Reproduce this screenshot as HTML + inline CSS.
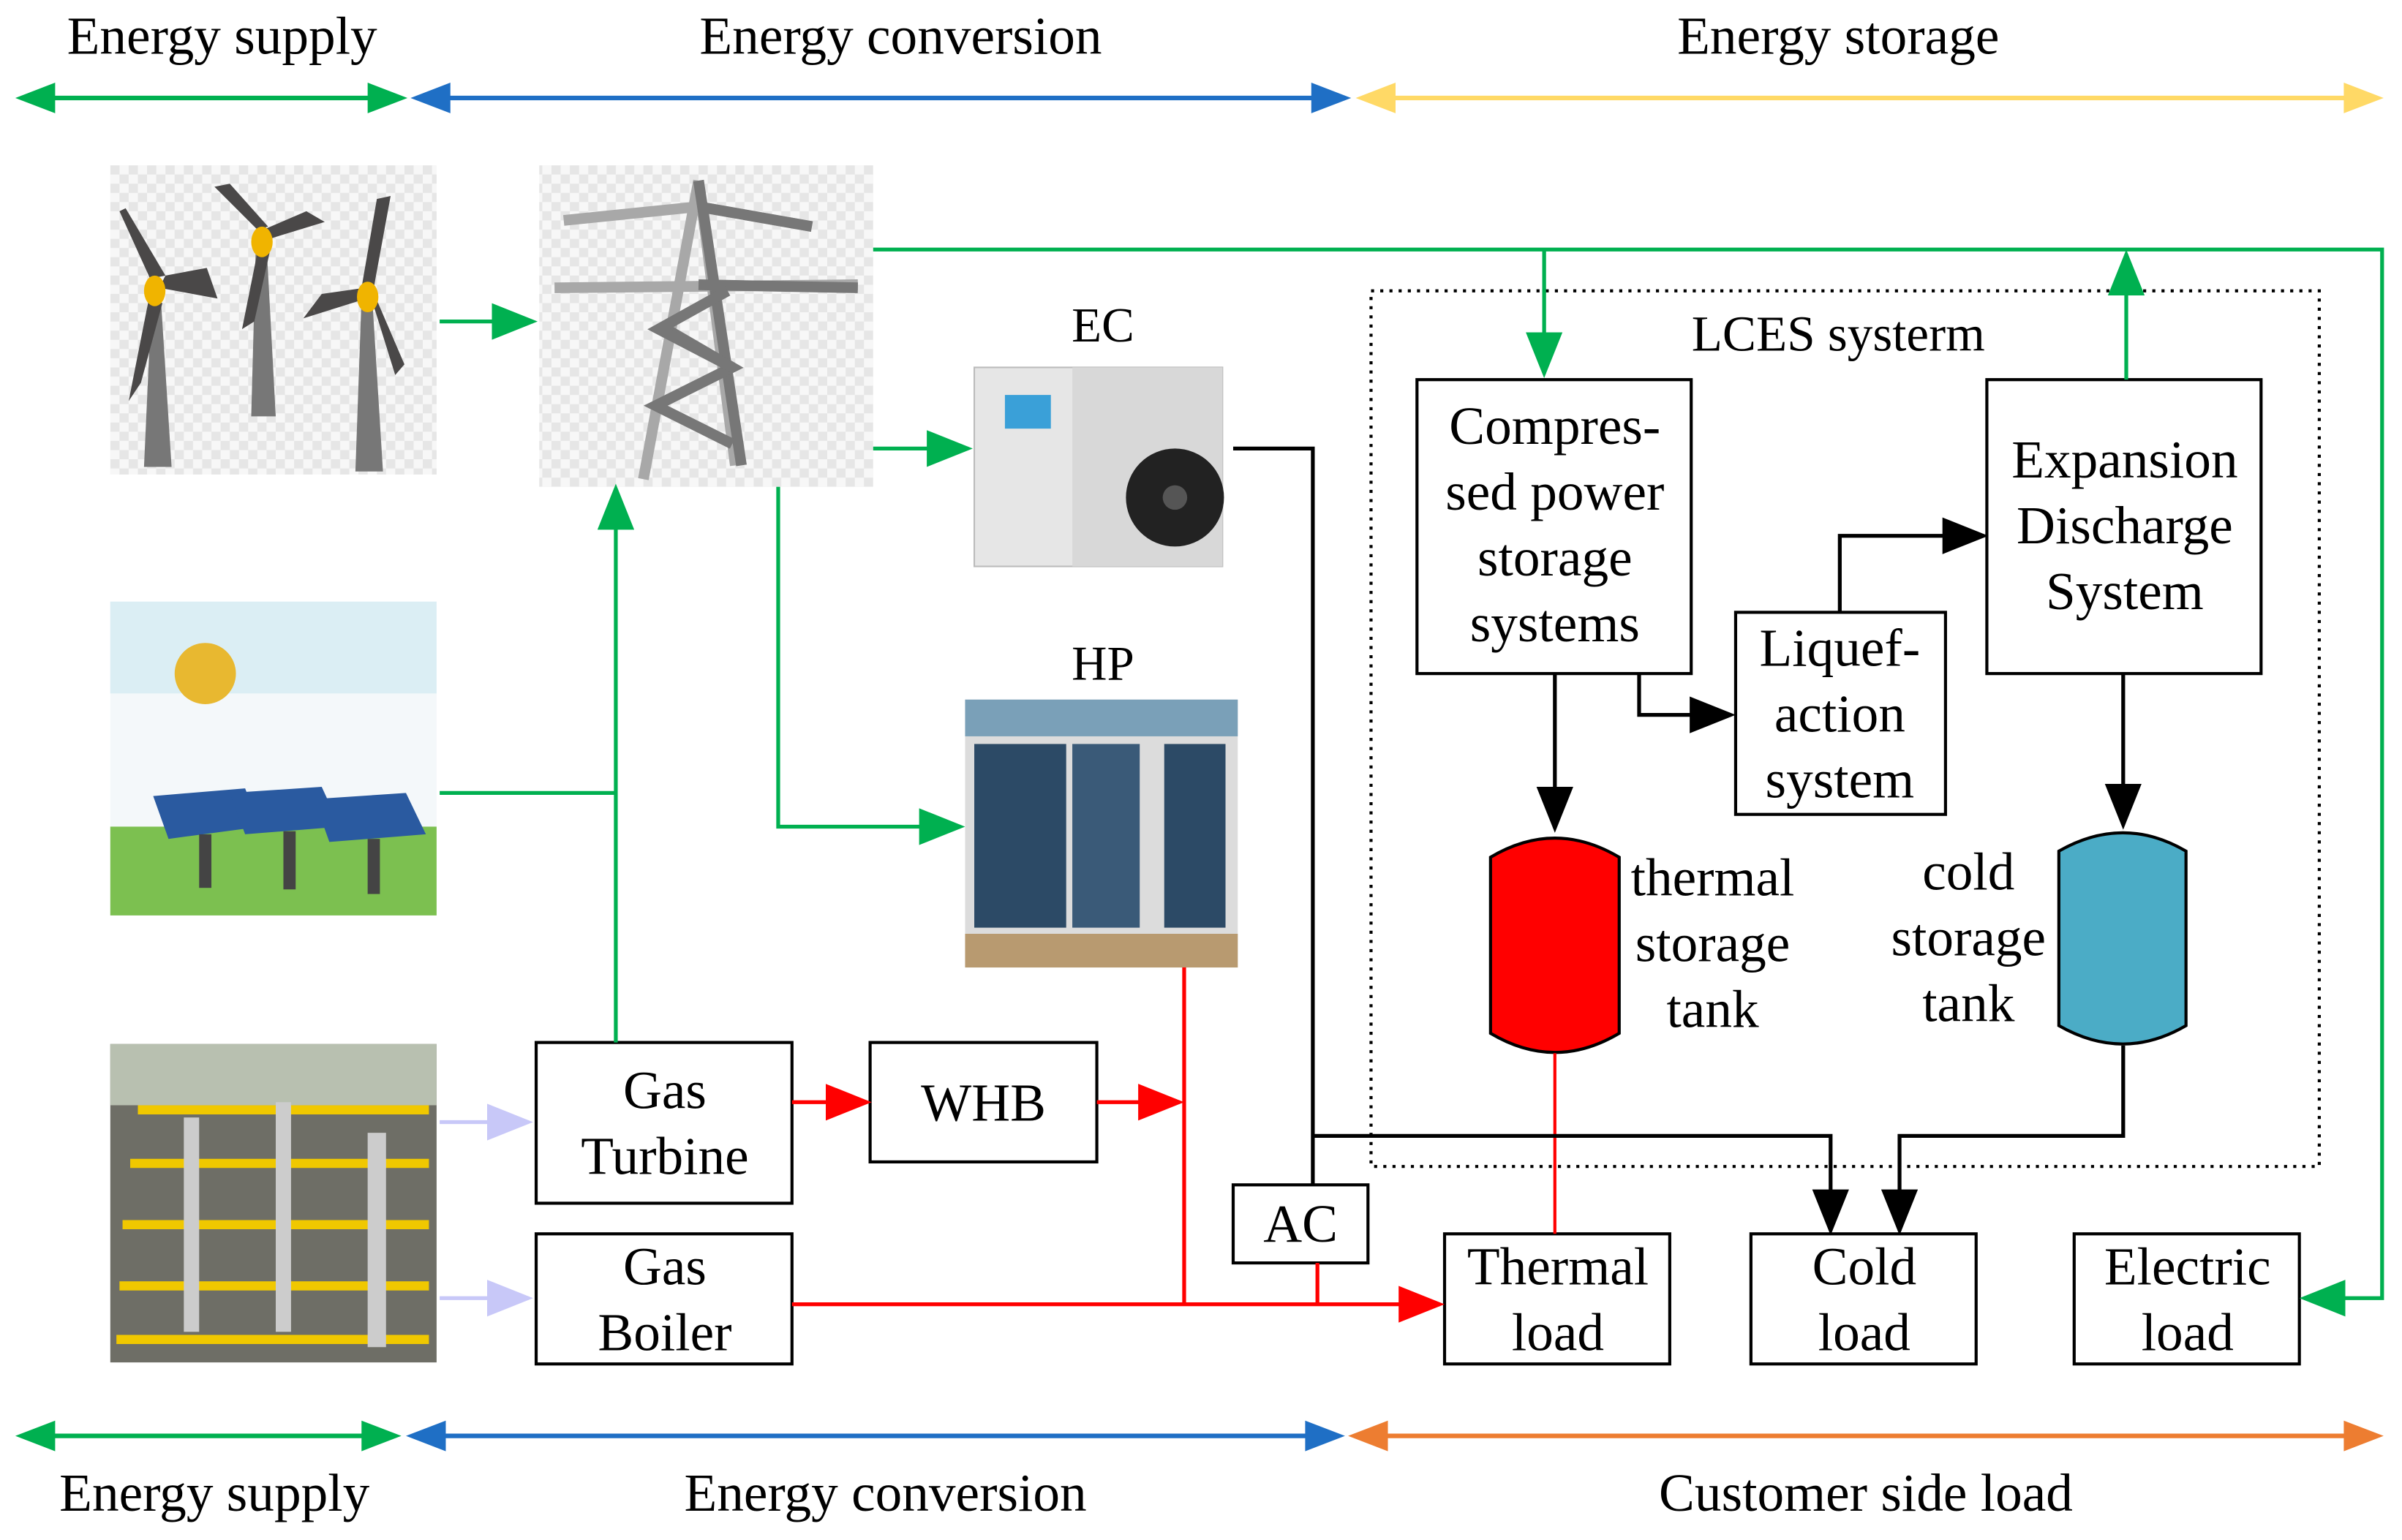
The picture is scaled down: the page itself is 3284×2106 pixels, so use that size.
<!DOCTYPE html>
<html><head><meta charset="utf-8"><style>
html,body{margin:0;padding:0;background:#fff;}
svg{display:block;}
text{font-family:"Liberation Serif",serif;fill:#000;}
</style></head><body>
<svg width="3284" height="2106" viewBox="0 0 1568 1006" preserveAspectRatio="none" xmlns="http://www.w3.org/2000/svg">
<defs>
<marker id="agL" viewBox="0 0 10 8" refX="9" refY="4" markerWidth="30" markerHeight="24" orient="auto" markerUnits="userSpaceOnUse"><path d="M0,0L10,4L0,8z" fill="#00b050"/></marker>
<marker id="arL" viewBox="0 0 10 8" refX="9" refY="4" markerWidth="30" markerHeight="24" orient="auto" markerUnits="userSpaceOnUse"><path d="M0,0L10,4L0,8z" fill="#ff0000"/></marker>
<marker id="akL" viewBox="0 0 10 8" refX="9" refY="4" markerWidth="30" markerHeight="24" orient="auto" markerUnits="userSpaceOnUse"><path d="M0,0L10,4L0,8z" fill="#000"/></marker>
<marker id="apL" viewBox="0 0 10 8" refX="9" refY="4" markerWidth="30" markerHeight="24" orient="auto" markerUnits="userSpaceOnUse"><path d="M0,0L10,4L0,8z" fill="#c8c8f8"/></marker>
<pattern id="chk" width="12" height="12" patternUnits="userSpaceOnUse"><rect width="12" height="12" fill="#f7f7f7"/><rect width="6" height="6" fill="#e6e6e6"/><rect x="6" y="6" width="6" height="6" fill="#e6e6e6"/></pattern>
</defs>

<g stroke-width="3">
<line x1="14" y1="64" x2="262" y2="64" stroke="#00b050"/>
<path d="M10,64l26,-10v20z M266,64l-26,-10v20z" fill="#00b050"/>
<line x1="272" y1="64" x2="878" y2="64" stroke="#1f6fc5"/>
<path d="M268,64l26,-10v20z M882,64l-26,-10v20z" fill="#1f6fc5"/>
<line x1="889" y1="64" x2="1551" y2="64" stroke="#ffd966"/>
<path d="M885,64l26,-10v20z M1556,64l-26,-10v20z" fill="#ffd966"/>
<line x1="14" y1="938" x2="258" y2="938" stroke="#00b050"/>
<path d="M10,938l26,-10v20z M262,938l-26,-10v20z" fill="#00b050"/>
<line x1="269" y1="938" x2="874" y2="938" stroke="#1f6fc5"/>
<path d="M265,938l26,-10v20z M878,938l-26,-10v20z" fill="#1f6fc5"/>
<line x1="884" y1="938" x2="1551" y2="938" stroke="#ed7d31"/>
<path d="M880,938l26,-10v20z M1556,938l-26,-10v20z" fill="#ed7d31"/>
</g>
<g font-size="35" text-anchor="middle">
<text x="145" y="35">Energy supply</text>
<text x="588" y="35">Energy conversion</text>
<text x="1200" y="35">Energy storage</text>
<text x="140" y="987">Energy supply</text>
<text x="578" y="987">Energy conversion</text>
<text x="1218" y="987">Customer side load</text>
</g>

<!-- wind image -->
<rect x="72" y="108" width="213" height="202" fill="url(#chk)"/>
<g fill="#4a4848">
<polygon points="94,305 99,195 105,195 112,305" fill="#777"/>
<polygon points="164,272 167,160 174,160 180,272" fill="#777"/>
<polygon points="232,308 236,195 243,195 250,308" fill="#777"/>
<path d="M98,182L78,138L82,136L108,180Z M104,188L142,195L135,175L108,180Z M97,196L84,262L92,250L106,198Z"/>
<path d="M168,150L140,122L150,120L175,148Z M176,156L212,145L200,138L172,150Z M168,165L158,215L166,210L176,165Z"/>
<path d="M244,188L255,128L246,130L236,188Z M236,196L198,208L210,192L238,188Z M244,200L258,245L264,238L246,196Z"/>
</g>
<g fill="#f0b400"><ellipse cx="101" cy="190" rx="7" ry="10"/><ellipse cx="171" cy="158" rx="7" ry="10"/><ellipse cx="240" cy="194" rx="7" ry="10"/></g>

<!-- tower -->
<rect x="352" y="108" width="218" height="210" fill="url(#chk)"/>
<g stroke="#a8a8a8" stroke-width="7" fill="none" stroke-linejoin="bevel">
<path d="M456,118L420,313 M456,118L480,304"/>
<path d="M368,144L456,135 M456,135L530,148"/>
<path d="M362,188L560,186"/>
</g>
<g stroke="#777" stroke-width="7" fill="none">
<path d="M456,118L484,304 M456,135L530,148 M456,186L560,188"/>
<path d="M435,215L478,240L428,265L478,290"/>
<path d="M475,190L430,215L478,240"/>
</g>

<!-- EC image -->
<text x="720" y="223" font-size="32" text-anchor="middle">EC</text>
<rect x="636" y="240" width="162" height="130" fill="#e6e6e6" stroke="#bbb"/>
<rect x="700" y="240" width="98" height="130" fill="#d8d8d8"/>
<rect x="656" y="258" width="30" height="22" fill="#3aa0d8"/>
<circle cx="767" cy="325" r="32" fill="#222"/>
<circle cx="767" cy="325" r="8" fill="#555"/>

<!-- HP image -->
<text x="720" y="444" font-size="32" text-anchor="middle">HP</text>
<rect x="630" y="457" width="178" height="175" fill="#dcdcdc"/>
<rect x="630" y="457" width="178" height="24" fill="#7aa0b8"/>
<rect x="636" y="486" width="60" height="120" fill="#2c4a66"/>
<rect x="700" y="486" width="44" height="120" fill="#3a5a78"/>
<rect x="760" y="486" width="40" height="120" fill="#2c4a66"/>
<rect x="630" y="610" width="178" height="22" fill="#b89a70"/>

<!-- solar image -->
<rect x="72" y="393" width="213" height="205" fill="#f4f8fa"/>
<rect x="72" y="393" width="213" height="60" fill="#dbeef4"/>
<rect x="72" y="540" width="213" height="58" fill="#7cc050"/>
<circle cx="134" cy="440" r="20" fill="#e8b830"/>
<g fill="#2a5aa0"><polygon points="100,520 160,515 170,540 110,548"/><polygon points="150,518 210,514 222,540 160,545"/><polygon points="205,522 265,518 278,545 215,550"/></g>
<g fill="#444"><rect x="130" y="545" width="8" height="35"/><rect x="185" y="543" width="8" height="38"/><rect x="240" y="548" width="8" height="36"/></g>

<!-- gas image -->
<rect x="72" y="682" width="213" height="208" fill="#6e6e66"/>
<rect x="72" y="682" width="213" height="40" fill="#b8c0b0"/>
<g stroke="#f0c800" stroke-width="6" fill="none">
<path d="M90,725H280 M85,760H280 M80,800H280 M78,840H280 M76,875H280"/>
</g>
<g fill="#ccc"><rect x="120" y="730" width="10" height="140"/><rect x="180" y="720" width="10" height="150"/><rect x="240" y="740" width="12" height="140"/></g>

<rect x="895" y="190" width="619" height="572" fill="none" stroke="#000" stroke-width="2" stroke-dasharray="2,4"/>
<text x="1200" y="229" font-size="33" text-anchor="middle">LCES systerm</text>

<g fill="#fff" stroke="#000" stroke-width="2">
<rect x="350" y="681" width="167" height="105"/>
<rect x="568" y="681" width="148" height="78"/>
<rect x="350" y="806" width="167" height="85"/>
<rect x="805" y="774" width="88" height="51"/>
<rect x="943" y="806" width="147" height="85"/>
<rect x="1143" y="806" width="147" height="85"/>
<rect x="1354" y="806" width="147" height="85"/>
<rect x="925" y="248" width="179" height="192"/>
<rect x="1133" y="400" width="137" height="132"/>
<rect x="1297" y="248" width="179" height="192"/>
</g>
<g font-size="35" text-anchor="middle">
<text x="434" y="724">Gas</text><text x="434" y="767">Turbine</text>
<text x="642" y="732">WHB</text>
<text x="434" y="839">Gas</text><text x="434" y="882">Boiler</text>
<text x="849" y="811">AC</text>
<text x="1017" y="839">Thermal</text><text x="1017" y="882">load</text>
<text x="1217" y="839">Cold</text><text x="1217" y="882">load</text>
<text x="1428" y="839">Electric</text><text x="1428" y="882">load</text>
<text x="1015" y="290">Compres-</text><text x="1015" y="333">sed power</text><text x="1015" y="376">storage</text><text x="1015" y="419">systems</text>
<text x="1201" y="435">Liquef-</text><text x="1201" y="478">action</text><text x="1201" y="521">system</text>
<text x="1387" y="312">Expansion</text><text x="1387" y="355">Discharge</text><text x="1387" y="398">System</text>
<text x="1118" y="585">thermal</text><text x="1118" y="628">storage</text><text x="1118" y="671">tank</text>
<text x="1285" y="581">cold</text><text x="1285" y="624">storage</text><text x="1285" y="667">tank</text>
</g>

<path d="M973,560Q1015,535 1057,560V675Q1015,700 973,675Z" fill="#ff0000" stroke="#000" stroke-width="2"/>
<path d="M1344,556Q1386,532 1427,556V670Q1386,694 1344,670Z" fill="#4bacc6" stroke="#000" stroke-width="2"/>

<g stroke="#00b050" stroke-width="2.5" fill="none">
<path d="M287,210H348" marker-end="url(#agL)"/>
<path d="M570,163H1555V848H1504" marker-end="url(#agL)"/>
<path d="M1008,163V244" marker-end="url(#agL)"/>
<path d="M1388,248V166" marker-end="url(#agL)"/>
<path d="M570,293H632" marker-end="url(#agL)"/>
<path d="M508,318V540H627" marker-end="url(#agL)"/>
<path d="M287,518H402"/>
<path d="M402,681V319" marker-end="url(#agL)"/>
</g>
<g stroke="#c8c8f8" stroke-width="2.5" fill="none">
<path d="M287,733H345" marker-end="url(#apL)"/>
<path d="M287,848H345" marker-end="url(#apL)"/>
</g>
<g stroke="#ff0000" stroke-width="2.5" fill="none">
<path d="M517,720H566" marker-end="url(#arL)"/>
<path d="M716,720H770" marker-end="url(#arL)"/>
<path d="M773,632V852"/>
<path d="M517,852H940" marker-end="url(#arL)"/>
<path d="M860,825V852"/>
<path d="M1015,688V806" stroke-width="2"/>
</g>
<g stroke="#000" stroke-width="2.5" fill="none">
<path d="M805,293H857V774"/>
<path d="M857,742H1195V804" marker-end="url(#akL)"/>
<path d="M1386,683V742H1240V804" marker-end="url(#akL)"/>
<path d="M1015,440V541" marker-end="url(#akL)"/>
<path d="M1070,440V467H1130" marker-end="url(#akL)"/>
<path d="M1201,400V350H1295" marker-end="url(#akL)"/>
<path d="M1386,440V539" marker-end="url(#akL)"/>
</g>
</svg>
</body></html>
